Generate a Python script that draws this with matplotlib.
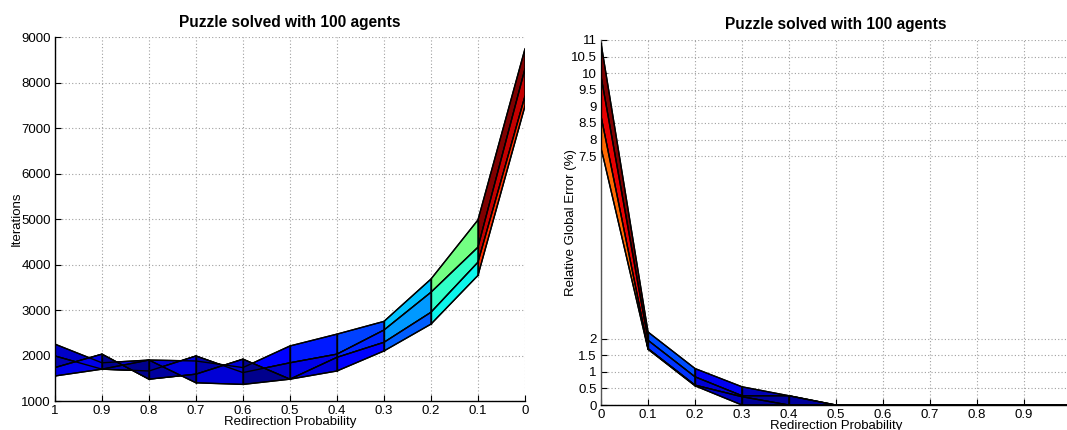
import matplotlib.pyplot as plt
import numpy as np
from matplotlib.patches import Polygon
from matplotlib.colors import Normalize

plt.rcParams['font.family'] = ['Liberation Sans', 'DejaVu Sans']

TITLE = "Puzzle solved with 100 agents"
X_LABEL = "Redirection Probability"

# redirection probability, ascending (left panel is shown reversed)
prob = [0.0, 0.1, 0.2, 0.3, 0.4, 0.5, 0.6, 0.7, 0.8, 0.9, 1.0]

# iterations, one row per run
iter_run1 = [8740, 4980, 3680, 2750, 2470, 2210, 1735, 1880, 1900, 1840, 2250]
iter_run2 = [8300, 4380, 3390, 2560, 2030, 1840, 1625, 1990, 1660, 1700, 1990]
iter_run3 = [7700, 4050, 2950, 2290, 1960, 1480, 1920, 1590, 1480, 2030, 1735]
iter_run4 = [7480, 3760, 2690, 2100, 1660, 1480, 1365, 1400, 1900, 1700, 1550]

# relative global error (%), one row per run
err_run1 = [10.9, 2.2, 1.1, 0.55, 0.28, 0.0, 0.0, 0.0, 0.0, 0.0, 0.0]
err_run2 = [9.9, 1.95, 0.85, 0.28, 0.28, 0.0, 0.0, 0.0, 0.0, 0.0, 0.0]
err_run3 = [8.7, 1.7, 0.6, 0.25, 0.0, 0.0, 0.0, 0.0, 0.0, 0.0, 0.0]
err_run4 = [7.75, 1.68, 0.58, 0.0, 0.0, 0.0, 0.0, 0.0, 0.0, 0.0, 0.0]

x_ticks = [0, 0.1, 0.2, 0.3, 0.4, 0.5, 0.6, 0.7, 0.8, 0.9, 1]
x_tick_labels = ["0", "0.1", "0.2", "0.3", "0.4", "0.5", "0.6", "0.7", "0.8", "0.9", "1"]
iter_ticks = [1000, 2000, 3000, 4000, 5000, 6000, 7000, 8000, 9000]
err_ticks = [0, 0.5, 1, 1.5, 2, 7.5, 8, 8.5, 9, 9.5, 10, 10.5, 11]
err_tick_labels = ["0", "0.5", "1", "1.5", "2", "7.5", "8", "8.5", "9", "9.5", "10", "10.5", "11"]


def draw_surface(ax, x, runs):
    # flat-shaded strips between consecutive runs, like a matlab surf seen from above
    runs = [np.asarray(r, dtype=float) for r in runs]
    allv = np.concatenate(runs)
    norm = Normalize(allv.min(), allv.max())
    cmap = plt.get_cmap("jet")
    for i in range(len(runs) - 1):
        a, b = runs[i], runs[i + 1]
        for j in range(len(x) - 1):
            pts = [(x[j], a[j]), (x[j + 1], a[j + 1]),
                   (x[j + 1], b[j + 1]), (x[j], b[j])]
            ax.add_patch(Polygon(pts, closed=True, facecolor=cmap(norm(a[j])),
                                 edgecolor="black", linewidth=0.9, zorder=3))
    for r in runs:
        ax.plot(x, r, color="black", linewidth=1.0, zorder=4)
    for j in range(len(x)):
        col = [r[j] for r in runs]
        ax.plot([x[j], x[j]], [min(col), max(col)], color="black",
                linewidth=1.0, zorder=4)


def style_axes(ax):
    ax.spines["top"].set_visible(False)
    ax.spines["right"].set_visible(False)
    ax.spines["left"].set_linewidth(1.0)
    ax.spines["bottom"].set_linewidth(1.0)
    ax.tick_params(direction="in", length=4, labelsize=9.5, pad=3)
    ax.grid(True, linestyle=(0, (1, 2)), color="#a0a0a0", linewidth=0.8)
    ax.set_axisbelow(True)


fig = plt.figure(figsize=(10.67, 4.3), dpi=100)

# left: iterations
ax1 = fig.add_axes([0.0515, 0.0674, 0.4405, 0.8465])
draw_surface(ax1, prob, [iter_run1, iter_run2, iter_run3, iter_run4])
ax1.set_xlim(1, 0)
ax1.set_ylim(1000, 9000)
ax1.set_xticks(x_ticks)
ax1.set_xticklabels(x_tick_labels)
ax1.set_yticks(iter_ticks)
style_axes(ax1)
ax1.set_title(TITLE, fontsize=11.2, fontweight="bold", pad=7)
ax1.set_xlabel(X_LABEL, fontsize=9.5, labelpad=-1)
ax1.set_ylabel("Iterations", fontsize=9.5, labelpad=-1)

# right: relative global error
ax2 = fig.add_axes([0.5633, 0.058, 0.4405, 0.849])
draw_surface(ax2, prob, [err_run1, err_run2, err_run3, err_run4])
ax2.set_xlim(0, 1)
ax2.set_ylim(0, 11)
ax2.set_xticks(x_ticks)
ax2.set_xticklabels(x_tick_labels)
ax2.set_yticks(err_ticks)
ax2.set_yticklabels(err_tick_labels)
style_axes(ax2)
ax2.spines["left"].set_color("#555555")
ax2.set_title(TITLE, fontsize=11.2, fontweight="bold", pad=8)
ax2.set_xlabel(X_LABEL, fontsize=9.5, labelpad=-1)
ax2.set_ylabel("Relative Global Error (%)", fontsize=9.5, labelpad=-4)

fig.savefig("out.png", dpi=100)
